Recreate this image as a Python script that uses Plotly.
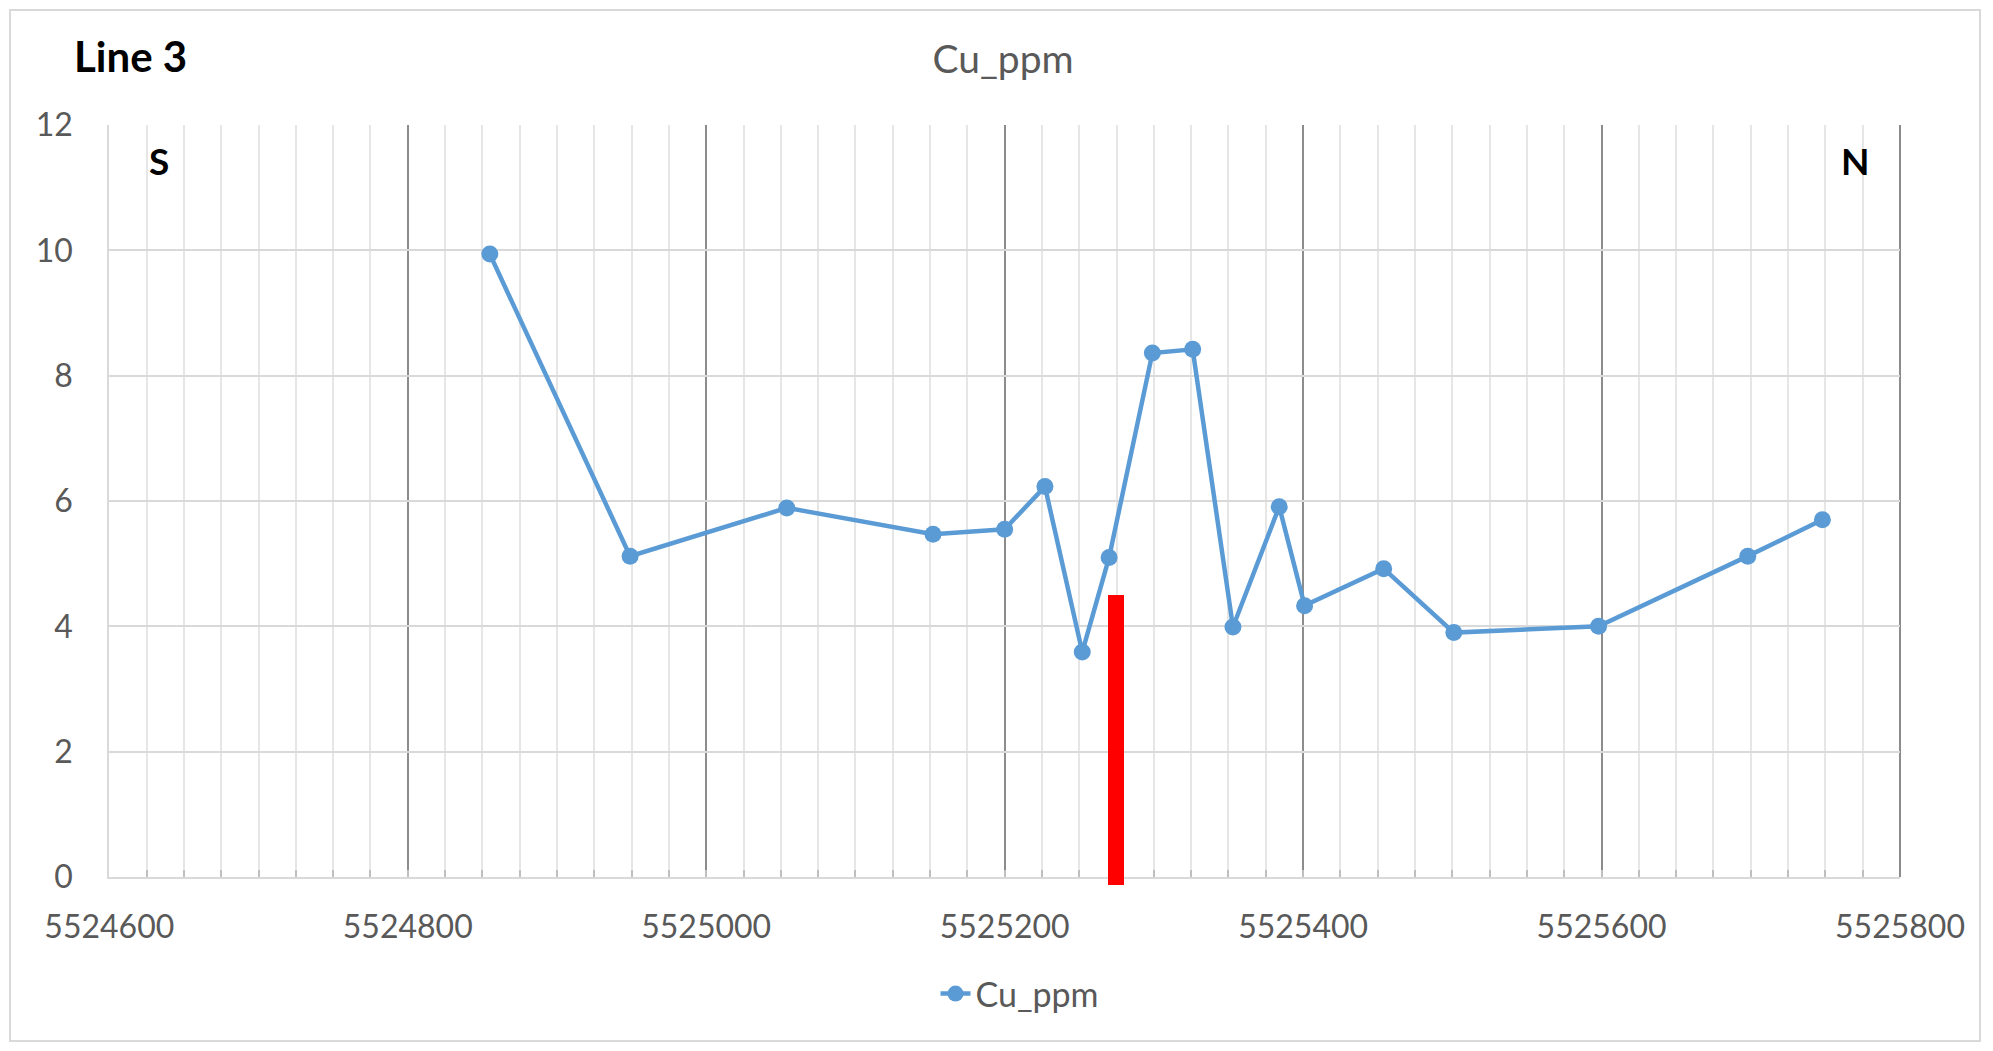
import plotly.graph_objects as go

# Sample positions along the line (northing) and copper assays
northing = [5524855, 5524949, 5525054, 5525152, 5525200, 5525227, 5525252, 5525270,
            5525299, 5525326, 5525353, 5525384, 5525401, 5525454, 5525501, 5525598,
            5525698, 5525748]
cu_ppm = [9.94, 5.12, 5.89, 5.47, 5.55, 6.23, 3.59, 5.10,
          8.36, 8.42, 3.99, 5.91, 4.33, 4.92, 3.90, 4.00,
          5.12, 5.70]

# Target marker (red bar) position and vertical extent
target_x = [5525275]
target_top = [4.5]
target_bottom = [-0.13]

x_ticks = [5524600, 5524800, 5525000, 5525200, 5525400, 5525600, 5525800]
y_ticks = [0, 2, 4, 6, 8, 10, 12]

W, H = 1993, 1051
# plot area in pixels
px_left, px_right, px_top, px_bottom = 109.3, 1900.0, 125.0, 877.0
bar_bottom_px = 890.0

x_range = [x_ticks[0], x_ticks[-1]]
y_range = [y_ticks[0], y_ticks[-1]]
px_per_unit = (px_bottom - px_top) / (y_range[1] - y_range[0])
y2_low = y_range[0] - (bar_bottom_px - px_bottom) / px_per_unit

xdom = [px_left / W, px_right / W]
ydom = [1 - px_bottom / H, 1 - px_top / H]
y2dom = [1 - bar_bottom_px / H, 1 - px_top / H]

FONT = "Lato"
GREY = "#595959"
BLUE = "#5B9BD5"

fig = go.Figure()

fig.add_trace(go.Scatter(
    x=northing, y=cu_ppm, name="Cu_ppm", mode="lines+markers",
    line=dict(color=BLUE, width=4.5),
    marker=dict(color=BLUE, size=17),
    xaxis="x", yaxis="y",
))

fig.add_trace(go.Bar(
    x=target_x,
    y=[t - b for t, b in zip(target_top, target_bottom)],
    base=target_bottom,
    width=10.7,
    marker=dict(color="#FF0000", line=dict(width=0)),
    showlegend=False, hoverinfo="skip",
    xaxis="x2", yaxis="y2",
))

fig.update_layout(
    template="none",
    width=W, height=H,
    margin=dict(l=0, r=0, t=0, b=0, pad=0),
    paper_bgcolor="white", plot_bgcolor="rgba(0,0,0,0)",
    font=dict(family=FONT, color=GREY, size=32),
    title=dict(text="Cu_ppm", x=1003 / W, y=1 - 59 / H, xanchor="center", yanchor="middle",
               font=dict(family=FONT, size=39, color=GREY)),
    showlegend=True,
    legend=dict(orientation="h", x=1020 / W, y=1 - 994 / H, xanchor="center", yanchor="middle",
                font=dict(family=FONT, size=34, color=GREY), bgcolor="rgba(0,0,0,0)",
                borderwidth=0),
    xaxis=dict(
        domain=xdom, range=x_range, anchor="y", automargin=False,
        tickmode="array", tickvals=x_ticks, ticktext=[str(v) for v in x_ticks],
        showgrid=True, gridcolor="#8c8c8c", gridwidth=2,
        showline=True, linecolor="#d9d9d9", linewidth=2,
        ticks="inside", ticklen=7, tickcolor="#bfbfbf", tickwidth=2,
        ticklabelstandoff=21,
        tickfont=dict(family=FONT, size=32, color=GREY),
        minor=dict(tick0=x_ticks[0], dtick=25, showgrid=True, gridcolor="#e6e6e6", gridwidth=2,
                   ticks="inside", ticklen=7, tickcolor="#bfbfbf", tickwidth=2),
        zeroline=False, fixedrange=True,
    ),
    yaxis=dict(
        domain=ydom, range=y_range, anchor="x", automargin=False,
        tickmode="array", tickvals=y_ticks, ticktext=[str(v) for v in y_ticks],
        showgrid=True, gridcolor="#d9d9d9", gridwidth=2,
        showline=True, linecolor="#d9d9d9", linewidth=2,
        ticks="", ticklabelstandoff=28,
        tickfont=dict(family=FONT, size=32, color=GREY),
        zeroline=False, fixedrange=True,
    ),
    xaxis2=dict(domain=xdom, range=x_range, anchor="y2", visible=False,
                automargin=False, fixedrange=True),
    yaxis2=dict(domain=y2dom, range=[y2_low, y_range[1]], anchor="x2", visible=False,
                automargin=False, fixedrange=True),
    bargap=0,
)

# Chart frame
fig.add_shape(type="rect", xref="paper", yref="paper",
              x0=10 / W, x1=1980 / W, y0=1 - 1041 / H, y1=1 - 10 / H,
              line=dict(color="#d9d9d9", width=2), fillcolor="rgba(0,0,0,0)", layer="below")
# Right-hand edge of the plot is a major gridline, drawn dark
fig.add_shape(type="line", xref="paper", yref="paper",
              x0=xdom[1], x1=xdom[1], y0=ydom[0], y1=ydom[1],
              line=dict(color="#8c8c8c", width=2), layer="below")

# Heading and compass labels
fig.add_annotation(text="<b>Line 3</b>", xref="paper", yref="paper",
                   x=72 / W, y=1 - 56 / H, xanchor="left", yanchor="middle",
                   showarrow=False, font=dict(family=FONT, size=42, color="black"))
fig.add_annotation(text="<b>S</b>", xref="paper", yref="paper",
                   x=159 / W, y=1 - 161 / H, xanchor="center", yanchor="middle",
                   showarrow=False, font=dict(family=FONT, size=37, color="black"))
fig.add_annotation(text="<b>N</b>", xref="paper", yref="paper",
                   x=1855 / W, y=1 - 161 / H, xanchor="center", yanchor="middle",
                   showarrow=False, font=dict(family=FONT, size=37, color="black"))

fig.write_html("out.html")
